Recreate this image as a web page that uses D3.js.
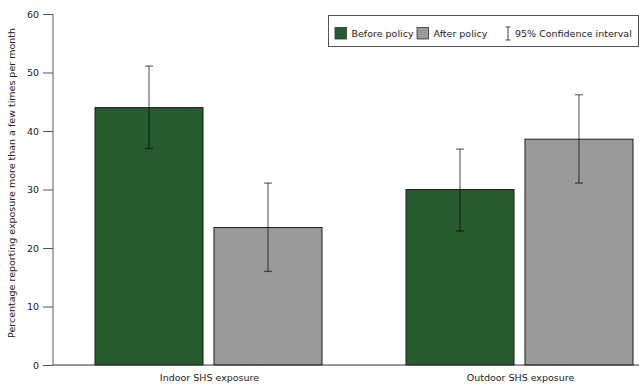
<!DOCTYPE html>
<html><head><meta charset="utf-8">
<script src="https://cdn.jsdelivr.net/npm/d3@7"></script>
<style>body{margin:0;background:#fff}svg{display:block;font-family:"DejaVu Sans",Verdana,sans-serif}</style>
</head><body>
<svg id="c" width="639" height="385"></svg>
<script>
const categories = ["Indoor SHS exposure", "Outdoor SHS exposure"];
const seriesNames = ["Before policy", "After policy"];
const seriesColors = ["#275a2e", "#9a9a9a"];
const values = [[44, 23.5], [30, 38.6]];      // [category][series]
const ciLow = [[37, 16], [22.9, 31.1]];
const ciHigh = [[51.1, 31.1], [36.9, 46.2]];
const yTicks = [0, 10, 20, 30, 40, 50, 60];
const yTitle = "Percentage reporting exposure more than a few times per month";
const legendCI = "95% Confidence interval";

(function () {
const FS = 9.5;
const svg = d3.select("#c");
const mLeft = 53, mTop = 14, mBottom = 365;
const y = d3.scaleLinear().domain([0, 60]).range([mBottom, mTop]);
const x0 = d3.scaleBand().domain(categories).range([mLeft, 675]).paddingInner(0).paddingOuter(0);
const x1 = d3.scaleBand().domain(seriesNames).range([42, x0.bandwidth() - 42]).paddingInner(0.092);

// y axis
const yAxis = svg.append("g").attr("transform", `translate(${mLeft},0)`)
  .call(d3.axisLeft(y).tickValues(yTicks).tickSize(10).tickPadding(4).tickFormat(d3.format("d")));
yAxis.selectAll("text").attr("font-size", FS).attr("fill", "#222").attr("font-family", "DejaVu Sans, Verdana, sans-serif");
yAxis.selectAll("line").attr("stroke", "#555");
yAxis.select(".domain").attr("stroke", "#777").attr("stroke-width", 1.2).attr("d", `M0,${mTop}V${mBottom}`);

// bars
const g = svg.append("g");
categories.forEach((c, ci) => {
  seriesNames.forEach((s, si) => {
    const bx = x0(c) + x1(s);
    g.append("rect").attr("x", bx).attr("y", y(values[ci][si]))
      .attr("width", x1.bandwidth()).attr("height", y(0) - y(values[ci][si]))
      .attr("fill", seriesColors[si]).attr("stroke", "#1e1e1e").attr("stroke-width", 1);
    const cx = bx + x1.bandwidth() / 2;
    const eb = g.append("g").attr("stroke", "#000").attr("stroke-opacity", 0.55).attr("stroke-width", 1.3);
    eb.append("line").attr("x1", cx).attr("x2", cx).attr("y1", y(ciHigh[ci][si])).attr("y2", y(ciLow[ci][si]));
    eb.append("line").attr("x1", cx - 4).attr("x2", cx + 4).attr("y1", y(ciHigh[ci][si])).attr("y2", y(ciHigh[ci][si]));
    eb.append("line").attr("x1", cx - 4).attr("x2", cx + 4).attr("y1", y(ciLow[ci][si])).attr("y2", y(ciLow[ci][si]));
  });
});

// x axis
svg.append("line").attr("x1", mLeft).attr("x2", 639).attr("y1", mBottom).attr("y2", mBottom)
  .attr("stroke", "#333").attr("stroke-width", 1.2);
svg.append("g").selectAll("text").data(categories).join("text")
  .attr("x", d => x0(d) + x0.bandwidth() / 2 + 1).attr("y", 381)
  .attr("text-anchor", "middle").attr("font-size", FS).attr("fill", "#222").text(d => d);

// y title
svg.append("text").attr("transform", `translate(15,183) rotate(-90)`)
  .attr("text-anchor", "middle").attr("font-size", FS).attr("fill", "#222").text(yTitle);

// legend
const lg = svg.append("g");
lg.append("rect").attr("x", 328.5).attr("y", 15.5).attr("width", 310).attr("height", 31)
  .attr("fill", "#fff").attr("stroke", "#555").attr("stroke-width", 1);
const legX = [335, 417];
seriesNames.forEach((s, i) => {
  lg.append("rect").attr("x", legX[i]).attr("y", 27.5).attr("width", 11.5).attr("height", 11.5)
    .attr("fill", seriesColors[i]).attr("stroke", "#333").attr("stroke-width", 0.8);
  lg.append("text").attr("x", legX[i] + 16.5).attr("y", 36.5).attr("font-size", FS).attr("fill", "#222").text(s);
});
const ciG = lg.append("g").attr("stroke", "#444").attr("stroke-width", 1);
ciG.append("line").attr("x1", 508).attr("x2", 508).attr("y1", 27).attr("y2", 40);
ciG.append("line").attr("x1", 505.5).attr("x2", 510.5).attr("y1", 27).attr("y2", 27);
ciG.append("line").attr("x1", 505.5).attr("x2", 510.5).attr("y1", 40).attr("y2", 40);
lg.append("text").attr("x", 515).attr("y", 36.5).attr("font-size", FS).attr("fill", "#222").text(legendCI);
})();
</script>
</body></html>
